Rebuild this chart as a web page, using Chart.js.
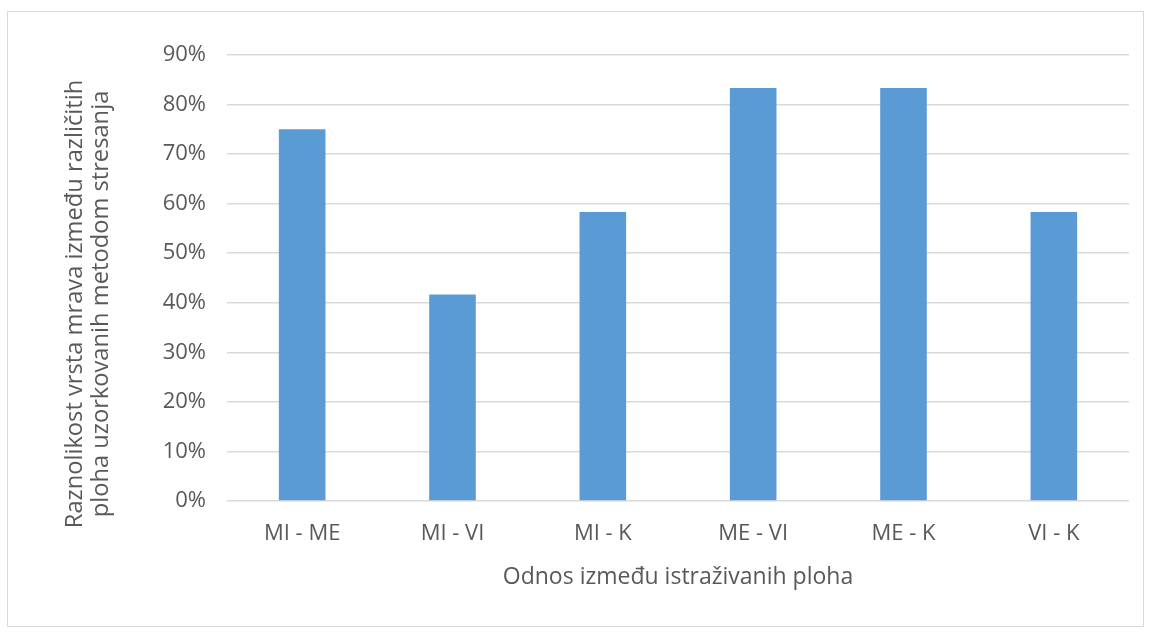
<!DOCTYPE html>
<html lang="hr">
<head>
  <meta charset="UTF-8">
  <title>Raznolikost vrsta mrava</title>
  <script src="https://cdn.jsdelivr.net/npm/chart.js"></script>
  <style>
    body {
      margin: 0;
      padding: 0;
      background: #ffffff;
      font-family: 'Open Sans', sans-serif;
    }

    .wrap {
      position: relative;
      width: 1150px;
      height: 635px;
    }

    .frame {
      position: absolute;
      left: 7px;
      top: 11px;
      width: 1135px;
      height: 614px;
      border: 1.5px solid #d9d9d9;
      pointer-events: none;
    }
  </style>
</head>
<body>
  <div class="wrap">
    <canvas id="diversityChart" width="1150" height="635"></canvas>
    <div class="frame"></div>
  </div>

  <script>
    const categories = ['MI - ME', 'MI - VI', 'MI - K', 'ME - VI', 'ME - K', 'VI - K'];
    const similarity = [75, 41.67, 58.33, 83.33, 83.33, 58.33];
    const yTicks = [0, 10, 20, 30, 40, 50, 60, 70, 80, 90];
    const yTitle = ['Raznolikost vrsta mrava između različitih', 'ploha uzorkovanih metodom stresanja'];

    const textColor = '#595959';
    const fontFamily = "'Open Sans', sans-serif";

    // y title drawn by hand: Excel puts it a bit lower than the plot centre
    const yTitlePlugin = {
      id: 'yTitle',
      afterDraw(chart) {
        const ctx = chart.ctx;
        ctx.save();
        ctx.fillStyle = textColor;
        ctx.font = '23.7px ' + fontFamily;
        ctx.textAlign = 'center';
        ctx.textBaseline = 'middle';
        ctx.translate(75, 304);
        ctx.rotate(-Math.PI / 2);
        yTitle.forEach((line, i) => ctx.fillText(line, 0, i * 26));
        ctx.restore();
      }
    };

    new Chart(document.getElementById('diversityChart'), {
      type: 'bar',
      data: {
        labels: categories,
        datasets: [{
          data: similarity,
          backgroundColor: '#5b9bd5',
          barPercentage: 0.31,
          categoryPercentage: 1
        }]
      },
      options: {
        responsive: false,
        animation: false,
        layout: {
          padding: { top: 55, right: 21, bottom: 0, left: 0 }
        },
        plugins: {
          legend: { display: false },
          tooltip: { enabled: false }
        },
        scales: {
          x: {
            grid: { display: false, drawTicks: false },
            border: { display: false },
            ticks: {
              color: textColor,
              padding: 20,
              font: { family: fontFamily, size: 22 }
            },
            title: {
              display: true,
              text: 'Odnos između istraživanih ploha',
              color: textColor,
              font: { family: fontFamily, size: 23 },
              padding: { top: 0, bottom: 44 }
            },
            afterFit: function (scale) { scale.height = 134; }
          },
          y: {
            min: 0,
            max: 90,
            afterBuildTicks: function (scale) {
              scale.ticks = yTicks.map(v => ({ value: v }));
            },
            grid: {
              color: '#d9d9d9',
              lineWidth: 1.5,
              drawTicks: false
            },
            border: { display: false },
            ticks: {
              color: textColor,
              padding: 21,
              font: { family: fontFamily, size: 22 },
              callback: v => v + '%'
            },
            afterFit: function (scale) { scale.width = 227; }
          }
        }
      },
      plugins: [yTitlePlugin]
    });
  </script>
</body>
</html>
